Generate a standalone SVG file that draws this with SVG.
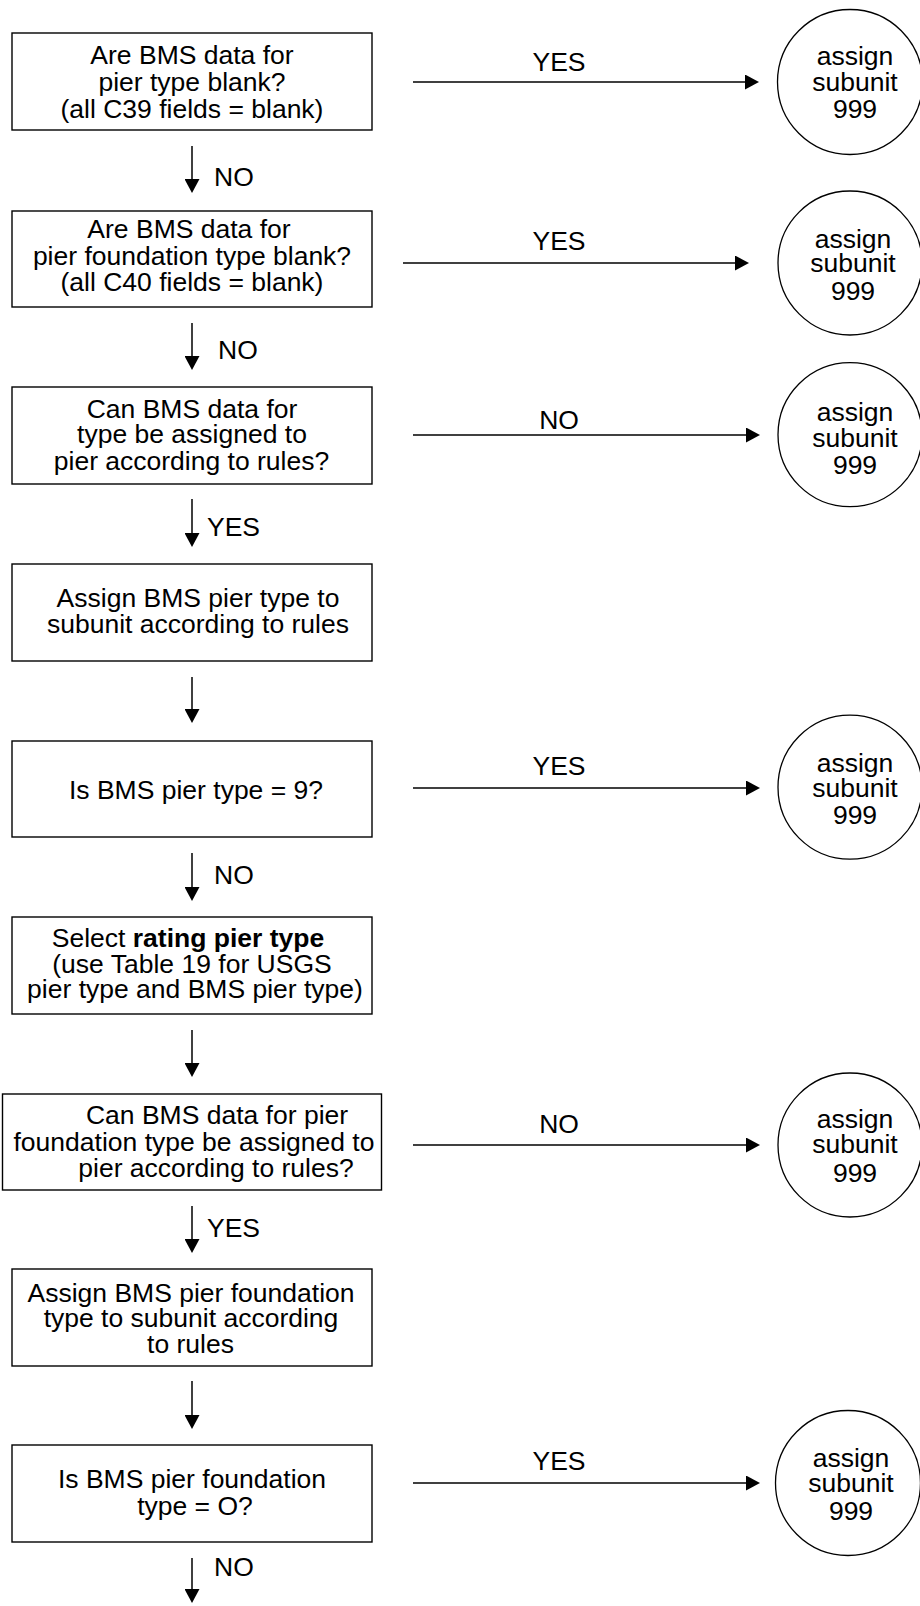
<svg xmlns="http://www.w3.org/2000/svg" width="920" height="1606" viewBox="0 0 920 1606">
<style>
text{font-family:"Liberation Sans",Arial,sans-serif;font-size:26.5px;fill:#000}
.m{text-anchor:middle}
.box{fill:#fff;stroke:#000;stroke-width:1.4}
.end{fill:#fff;stroke:#000;stroke-width:1.3}
.c{stroke:#000;stroke-width:1.5;fill:none}
</style>
<defs>
<marker id="ah" markerUnits="userSpaceOnUse" markerWidth="14" markerHeight="15" refX="11" refY="7.5" orient="auto">
<path d="M0,0 L14,7.5 L0,15 z" fill="#000"/>
</marker>
</defs>
<rect width="920" height="1606" fill="#fff"/>
<g id="connectors">
<line class="c" x1="192" y1="146" x2="192" y2="190" marker-end="url(#ah)"/>
<line class="c" x1="192" y1="323" x2="192" y2="367" marker-end="url(#ah)"/>
<line class="c" x1="192" y1="499" x2="192" y2="544" marker-end="url(#ah)"/>
<line class="c" x1="192" y1="677" x2="192" y2="720" marker-end="url(#ah)"/>
<line class="c" x1="192" y1="853" x2="192" y2="898" marker-end="url(#ah)"/>
<line class="c" x1="192" y1="1030" x2="192" y2="1074" marker-end="url(#ah)"/>
<line class="c" x1="192" y1="1206" x2="192" y2="1250" marker-end="url(#ah)"/>
<line class="c" x1="192" y1="1381" x2="192" y2="1426" marker-end="url(#ah)"/>
<line class="c" x1="192" y1="1558" x2="192" y2="1600" marker-end="url(#ah)"/>
<text x="214" y="186">NO</text>
<text x="218" y="359">NO</text>
<text x="207" y="536">YES</text>
<text x="214" y="884">NO</text>
<text x="207" y="1237">YES</text>
<text x="214" y="1576">NO</text>
<line class="c" x1="413" y1="82" x2="756" y2="82" marker-end="url(#ah)"/>
<line class="c" x1="403" y1="263" x2="746" y2="263" marker-end="url(#ah)"/>
<line class="c" x1="413" y1="435" x2="757" y2="435" marker-end="url(#ah)"/>
<line class="c" x1="413" y1="788" x2="757" y2="788" marker-end="url(#ah)"/>
<line class="c" x1="413" y1="1145" x2="757" y2="1145" marker-end="url(#ah)"/>
<line class="c" x1="413" y1="1483" x2="757" y2="1483" marker-end="url(#ah)"/>
<text class="m" x="559" y="71">YES</text>
<text class="m" x="559" y="250">YES</text>
<text class="m" x="559" y="429">NO</text>
<text class="m" x="559" y="775">YES</text>
<text class="m" x="559" y="1133">NO</text>
<text class="m" x="559" y="1470">YES</text>
</g>
<g id="n1">
<rect class="box" x="12" y="33" width="360" height="97"/>
<text class="m" x="192" y="64">Are BMS data for</text>
<text class="m" x="192" y="91">pier type blank?</text>
<text class="m" x="192" y="117.7">(all C39 fields = blank)</text>
</g>
<g id="n2">
<rect class="box" x="12" y="211" width="360" height="96"/>
<text class="m" x="189" y="238.3">Are BMS data for</text>
<text class="m" x="192" y="265">pier foundation type blank?</text>
<text class="m" x="192" y="290.7">(all C40 fields = blank)</text>
</g>
<g id="n3">
<rect class="box" x="12" y="387" width="360" height="97"/>
<text class="m" x="192" y="418.3">Can BMS data for</text>
<text class="m" x="192" y="443.3">type be assigned to</text>
<text class="m" x="191.5" y="470">pier according to rules?</text>
</g>
<g id="n4">
<rect class="box" x="12" y="564" width="360" height="97"/>
<text class="m" x="198" y="606.7">Assign BMS pier type to</text>
<text class="m" x="198" y="632.7">subunit according to rules</text>
</g>
<g id="n5">
<rect class="box" x="12" y="741" width="360" height="96"/>
<text class="m" x="196" y="799.3">Is BMS pier type = 9?</text>
</g>
<g id="n6">
<rect class="box" x="12" y="917" width="360" height="97"/>
<text class="m" x="188" y="946.7">Select <tspan font-weight="bold">rating pier type</tspan></text>
<text class="m" x="192" y="972.7">(use Table 19 for USGS</text>
<text class="m" x="195" y="997.7">pier type and BMS pier type)</text>
</g>
<g id="n7">
<rect class="box" x="2.5" y="1094" width="379" height="96"/>
<text class="m" x="217" y="1124.3">Can BMS data for pier</text>
<text class="m" x="194" y="1150.7">foundation type be assigned to</text>
<text class="m" x="216" y="1177.3">pier according to rules?</text>
</g>
<g id="n8">
<rect class="box" x="12" y="1269" width="360" height="97"/>
<text class="m" x="191" y="1301.7">Assign BMS pier foundation</text>
<text class="m" x="191" y="1327.3">type to subunit according</text>
<text class="m" x="190.5" y="1353.3">to rules</text>
</g>
<g id="n9">
<rect class="box" x="12" y="1445" width="360" height="97"/>
<text class="m" x="192" y="1488.3">Is BMS pier foundation</text>
<text class="m" x="195" y="1515">type = O?</text>
</g>
<g id="e1">
<circle class="end" cx="850" cy="82" r="72.5"/>
<text class="m" x="855" y="65">assign</text>
<text class="m" x="855" y="90.7">subunit</text>
<text class="m" x="855" y="118.3">999</text>
</g>
<g id="e2">
<circle class="end" cx="850" cy="263" r="72"/>
<text class="m" x="853" y="248.3">assign</text>
<text class="m" x="853" y="272.3">subunit</text>
<text class="m" x="853" y="300">999</text>
</g>
<g id="e3">
<circle class="end" cx="850" cy="434.7" r="72"/>
<text class="m" x="855" y="421">assign</text>
<text class="m" x="855" y="446.7">subunit</text>
<text class="m" x="855" y="474">999</text>
</g>
<g id="e5">
<circle class="end" cx="850" cy="787.2" r="72"/>
<text class="m" x="855" y="771.7">assign</text>
<text class="m" x="855" y="796.7">subunit</text>
<text class="m" x="855" y="824">999</text>
</g>
<g id="e7">
<circle class="end" cx="850" cy="1145" r="72"/>
<text class="m" x="855" y="1128.3">assign</text>
<text class="m" x="855" y="1153.3">subunit</text>
<text class="m" x="855" y="1181.7">999</text>
</g>
<g id="e9">
<circle class="end" cx="848" cy="1483" r="72.5"/>
<text class="m" x="851" y="1467.3">assign</text>
<text class="m" x="851" y="1491.7">subunit</text>
<text class="m" x="851" y="1520">999</text>
</g>
</svg>
